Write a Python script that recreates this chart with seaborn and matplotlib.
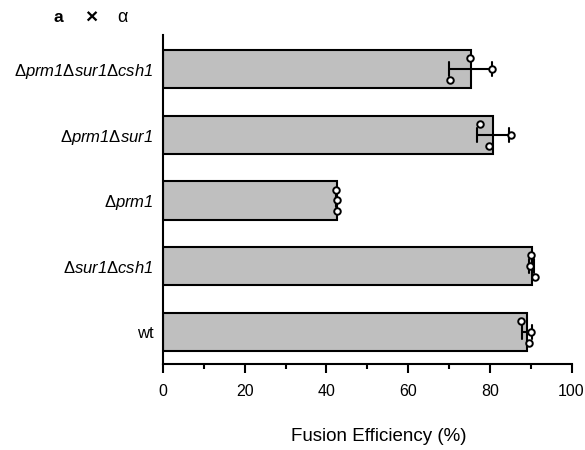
import numpy as np
import pandas as pd
import matplotlib
matplotlib.use("Agg")
import matplotlib.pyplot as plt
import seaborn as sns
from matplotlib.ticker import MultipleLocator

# ---- data ----
strains = ["prm1 sur1 csh1", "prm1 sur1", "prm1", "sur1 csh1", "wt"]
tick_labels = [
    r"$\mathsf{\Delta}prm1\mathsf{\Delta}sur1\mathsf{\Delta}csh1$",
    r"$\mathsf{\Delta}prm1\mathsf{\Delta}sur1$",
    r"$\mathsf{\Delta}prm1$",
    r"$\mathsf{\Delta}sur1\mathsf{\Delta}csh1$",
    "wt",
]
rep1 = [75.2, 77.5, 42.3, 90.0, 87.7]
rep2 = [80.6, 85.1, 42.5, 89.8, 90.0]
rep3 = [70.2, 79.7, 42.7, 91.0, 89.6]
x_ticks = [0, 20, 40, 60, 80, 100]
x_label = "Fusion Efficiency (%)"

# ---- style ----
sns.set_theme(style="ticks")
plt.rcParams["font.family"] = ["Liberation Sans", "DejaVu Sans"]
plt.rcParams["mathtext.fontset"] = "custom"
plt.rcParams["mathtext.rm"] = "Liberation Sans:italic"
plt.rcParams["mathtext.it"] = "Liberation Sans:italic"
plt.rcParams["mathtext.sf"] = "Liberation Sans"
plt.rcParams["mathtext.bf"] = "Liberation Sans:bold"
for k in ["text.color", "axes.labelcolor", "xtick.color", "ytick.color", "axes.edgecolor"]:
    plt.rcParams[k] = "black"

reps = [rep1, rep2, rep3]
rows = []
for r, vals in enumerate(reps):
    for i, s in enumerate(strains):
        rows.append({"strain": s, "idx": i, "rep": r, "value": vals[i]})
df = pd.DataFrame(rows)

rep_offset = {0: -0.167, 1: 0.0, 2: 0.167}
df["ypos"] = df["idx"] + df["rep"].map(rep_offset)

fig = plt.figure(figsize=(5.85, 4.5), dpi=100)
ax = fig.add_axes([163 / 585, 1 - 364 / 450, (571.5 - 163) / 585, (364 - 35) / 450])

sns.barplot(data=df, x="value", y="strain", order=strains, orient="h",
            errorbar="sd", color="#BFBFBF", saturation=1, width=0.58,
            edgecolor="black", linewidth=1.5, capsize=0.21,
            err_kws={"color": "black", "linewidth": 1.5}, ax=ax)

sns.scatterplot(data=df, x="value", y="ypos", marker="o", s=22,
                facecolor="white", edgecolor="black", linewidth=1.4,
                zorder=5, ax=ax, legend=False)

ax.set_xlim(0, 100)
ax.set_ylim(4.49, -0.52)
ax.set_yticks(range(len(strains)))
ax.set_yticklabels(tick_labels, fontsize=12)
ax.tick_params(axis="y", length=0, pad=7)
ax.set_ylabel("")

ax.set_xticks(x_ticks)
ax.xaxis.set_minor_locator(MultipleLocator(10))
ax.tick_params(axis="x", which="major", length=6.5, width=1.5, labelsize=11.5, pad=8)
ax.tick_params(axis="x", which="minor", length=3.5, width=1.5)
ax.set_xlabel(x_label, fontsize=13.5)
ax.xaxis.set_label_coords(0.527, -0.195)

sns.despine(ax=ax)
for sp in ["left", "bottom"]:
    ax.spines[sp].set_linewidth(1.5)
    ax.spines[sp].set_color("black")

base = 1 - 21.5 / 450
fig.text(53 / 585, base, "a", fontsize=12.5, fontweight="bold", va="baseline", ha="left")
fig.text(85 / 585, 1 - 24 / 450, "×", fontsize=15, fontweight="bold", va="baseline", ha="left")
fig.text(117 / 585, base, "α", fontsize=13, va="baseline", ha="left")

fig.savefig("out.png", dpi=100)
